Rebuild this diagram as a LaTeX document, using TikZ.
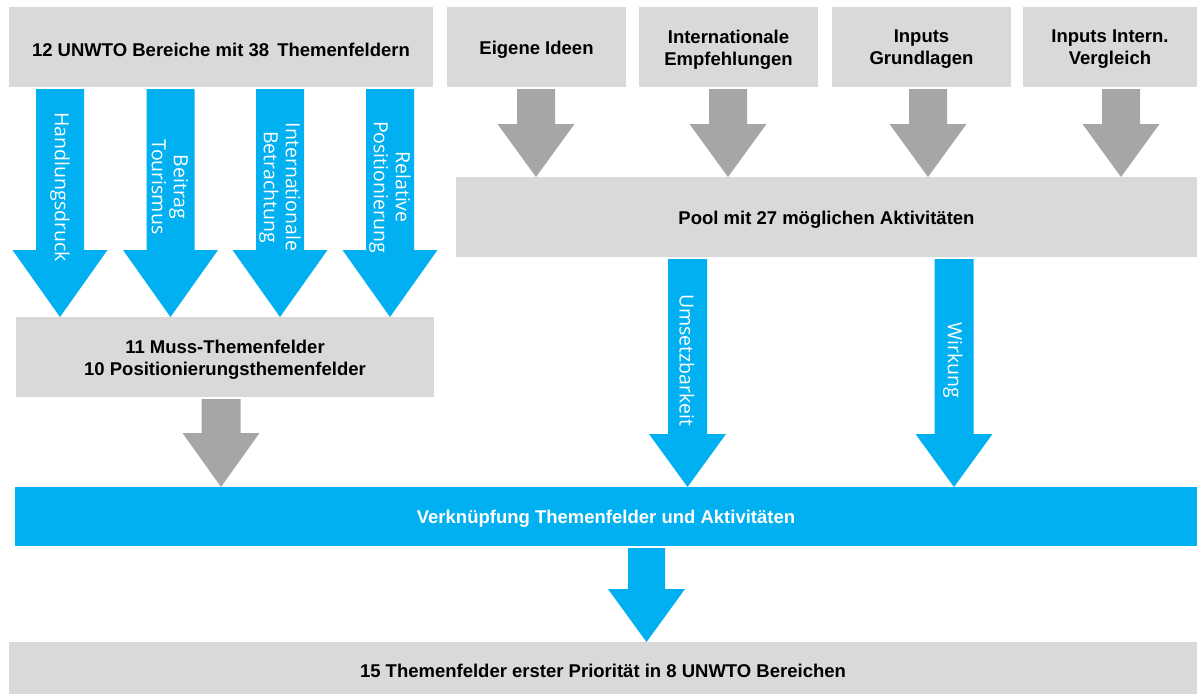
\documentclass[tikz,border=0pt]{standalone}
\usepackage{fontspec}
\setmainfont{Liberation Sans}
\newfontfamily\lblfont{Open Sans}
\usetikzlibrary{calc}
\definecolor{boxgray}{HTML}{D9D9D9}
\definecolor{arrgray}{HTML}{A6A6A6}
\definecolor{myblue}{HTML}{00B0F0}
\tikzset{
  box/.style={fill=boxgray, inner sep=0pt, outer sep=0pt},
  bluebar/.style={box, fill=myblue},
  txt/.style={inner sep=0pt, align=center, yshift=-2.5pt,
    font=\bfseries\fontsize{18.5}{22}\selectfont, text=black},
  wtxt/.style={txt, text=white},
  lbl/.style={inner sep=0pt, align=center, text=white, rotate=-90,
    font=\lblfont\fontsize{19.5}{22}\selectfont},
  grayarrow/.style={fill=arrgray},
  bluearrow/.style={fill=myblue},
}
% #1 x (pt), #2 source node, #3 target node, #4 head length, #5 half shaft, #6 half head, #7 style
\newcommand\blkarrow[7]{%
  \fill[#7] let \p1=(#2.south), \p2=(#3.north) in
    (#1pt-#5pt,\y1-2pt) -- (#1pt+#5pt,\y1-2pt) -- (#1pt+#5pt,\y2+#4pt)
    -- (#1pt+#6pt,\y2+#4pt) -- (#1pt,\y2) -- (#1pt-#6pt,\y2+#4pt)
    -- (#1pt-#5pt,\y2+#4pt) -- cycle;}
\begin{document}
\begin{tikzpicture}[x=1pt,y=-1pt]
\useasboundingbox (0,0) rectangle (1197,694);
% boxes
\node[box, minimum width=424pt, minimum height=80pt] (uw) at (221,47) {};
\node[box, minimum width=179pt, minimum height=80pt] (ei) at (536.5,47) {};
\node[box, minimum width=179pt, minimum height=80pt] (ie) at (728.5,47) {};
\node[box, minimum width=179pt, minimum height=80pt] (ig) at (921.5,47) {};
\node[box, minimum width=174pt, minimum height=80pt] (iv) at (1110,47) {};
\node[box, minimum width=741pt, minimum height=80pt] (pool) at (826.5,217) {};
\node[box, minimum width=418pt, minimum height=80pt] (muss) at (225,357) {};
\node[bluebar, minimum width=1182pt, minimum height=59pt] (verk) at (606,516.5) {};
\node[box, minimum width=1188pt, minimum height=52pt] (prio) at (603,668) {};
% box texts
\node[txt] (uw-t) at (uw.center) {12 UNWTO Bereiche mit 38\ \,Themenfeldern};
\node[txt] (ei-t) at (ei.center) {Eigene Ideen};
\node[txt] (ie-t) at (ie.center) {Internationale\\Empfehlungen};
\node[txt] (ig-t) at (ig.center) {Inputs\\Grundlagen};
\node[txt] (iv-t) at (iv.center) {Inputs Intern.\\Vergleich};
\node[txt] (pool-t) at (pool.center) {Pool mit 27 möglichen Aktivitäten};
\node[txt] (muss-t) at (muss.center) {11 Muss-Themenfelder\\10 Positionierungsthemenfelder};
\node[wtxt] (verk-t) at (verk.center) {Verknüpfung Themenfelder und Aktivitäten};
\node[txt] (prio-t) at (prio.center) {15 Themenfelder erster Priorität in 8 UNWTO Bereichen};
% blue arrows from UNWTO box to Muss box
\blkarrow{60}{uw}{muss}{67}{24}{47.5}{bluearrow}
\blkarrow{170.5}{uw}{muss}{67}{24}{47.5}{bluearrow}
\blkarrow{280}{uw}{muss}{67}{24}{47.5}{bluearrow}
\blkarrow{390}{uw}{muss}{67}{24}{47.5}{bluearrow}
\node[lbl] (l1) at (60,187) {Handlungsdruck};
\node[lbl] (l2) at (170,187) {Beitrag\\Tourismus};
\node[lbl] (l3) at (280,187) {Internationale\\Betrachtung};
\node[lbl] (l4) at (390,187) {Relative\\Positionierung};
% gray arrows to pool
\blkarrow{536}{ei}{pool}{53}{19}{38.5}{grayarrow}
\blkarrow{728}{ie}{pool}{53}{19}{38.5}{grayarrow}
\blkarrow{928}{ig}{pool}{53}{19}{38.5}{grayarrow}
\blkarrow{1121}{iv}{pool}{53}{19}{38.5}{grayarrow}
% gray arrow Muss -> Verknuepfung
\blkarrow{221}{muss}{verk}{54}{19.5}{38.5}{grayarrow}
% blue arrows pool -> Verknuepfung
\blkarrow{687.5}{pool}{verk}{53}{19.5}{38.5}{bluearrow}
\blkarrow{954}{pool}{verk}{53}{19.5}{38.5}{bluearrow}
\node[lbl] (l5) at (687,360) {Umsetzbarkeit};
\node[lbl] (l6) at (953,360) {Wirkung};
% blue arrow Verknuepfung -> prio
\blkarrow{646.5}{verk}{prio}{53}{18.5}{38.5}{bluearrow}
\end{tikzpicture}
\end{document}
